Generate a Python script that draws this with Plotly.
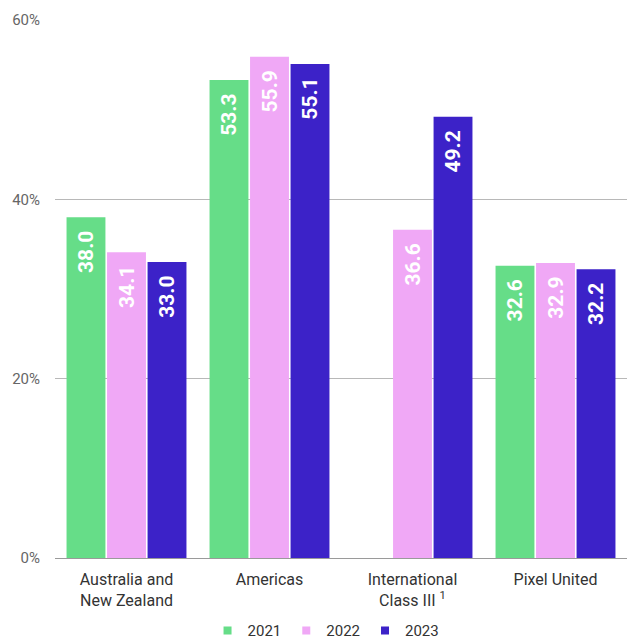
import plotly.graph_objects as go

categories = ["Australia and<br>New Zealand", "Americas", "International<br>Class III <sup>1</sup>", "Pixel United"]
years = ["2021", "2022", "2023"]
values_2021 = [38.0, 53.3, None, 32.6]
values_2022 = [34.1, 55.9, 36.6, 32.9]
values_2023 = [33.0, 55.1, 49.2, 32.2]
colors = ["#66DD88", "#F0A8F6", "#3C22C8"]
tick_vals = [0, 20, 40, 60]
tick_text = ["0%", "20%", "40%", "60%"]

PAD = "\u00a0\u00a0"  # keeps the value labels clear of the bar tops

fig = go.Figure()
for name, vals, col in zip(years, [values_2021, values_2022, values_2023], colors):
    fig.add_trace(go.Bar(
        name=name,
        x=categories,
        y=vals,
        marker=dict(color=col, line=dict(width=0)),
        text=[f"{v:.1f}{PAD}" if v is not None else None for v in vals],
        textposition="inside",
        insidetextanchor="end",
        textangle=-90,
        textfont=dict(family="Roboto", size=21, color="white", weight="bold"),
        showlegend=False,
    ))
    # compact square legend entry
    fig.add_trace(go.Scatter(
        name=name,
        x=[None], y=[None],
        mode="markers",
        marker=dict(symbol="square", size=8, color=col),
        showlegend=True,
        hoverinfo="skip",
    ))

fig.update_layout(
    width=627,
    height=639,
    margin=dict(l=55, r=0, t=20, b=81, autoexpand=False),
    barmode="group",
    bargap=0.15,
    bargroupgap=0.04,
    plot_bgcolor="white",
    paper_bgcolor="white",
    font=dict(family="Roboto", color="#333333", size=16),
    uniformtext=dict(minsize=8, mode="show"),
    legend=dict(
        orientation="h",
        xref="container", yref="container",
        x=0.52, xanchor="center",
        y=0.013, yanchor="middle",
        font=dict(size=15, color="#333333"),
        itemwidth=30,
        tracegroupgap=0,
        traceorder="normal",
    ),
    xaxis=dict(
        showgrid=False,
        showline=False,
        ticks="",
        tickfont=dict(size=16, color="#333333"),
        ticklabelstandoff=10,
    ),
    yaxis=dict(
        range=[0, 60],
        tickvals=tick_vals,
        ticktext=tick_text,
        showgrid=True,
        gridcolor="#B8B8B8",
        gridwidth=1,
        zeroline=True,
        zerolinecolor="#9A9A9A",
        zerolinewidth=1,
        tickfont=dict(size=15, color="#666666"),
        ticklabelstandoff=14,
    ),
)

fig.write_html("out.html")
